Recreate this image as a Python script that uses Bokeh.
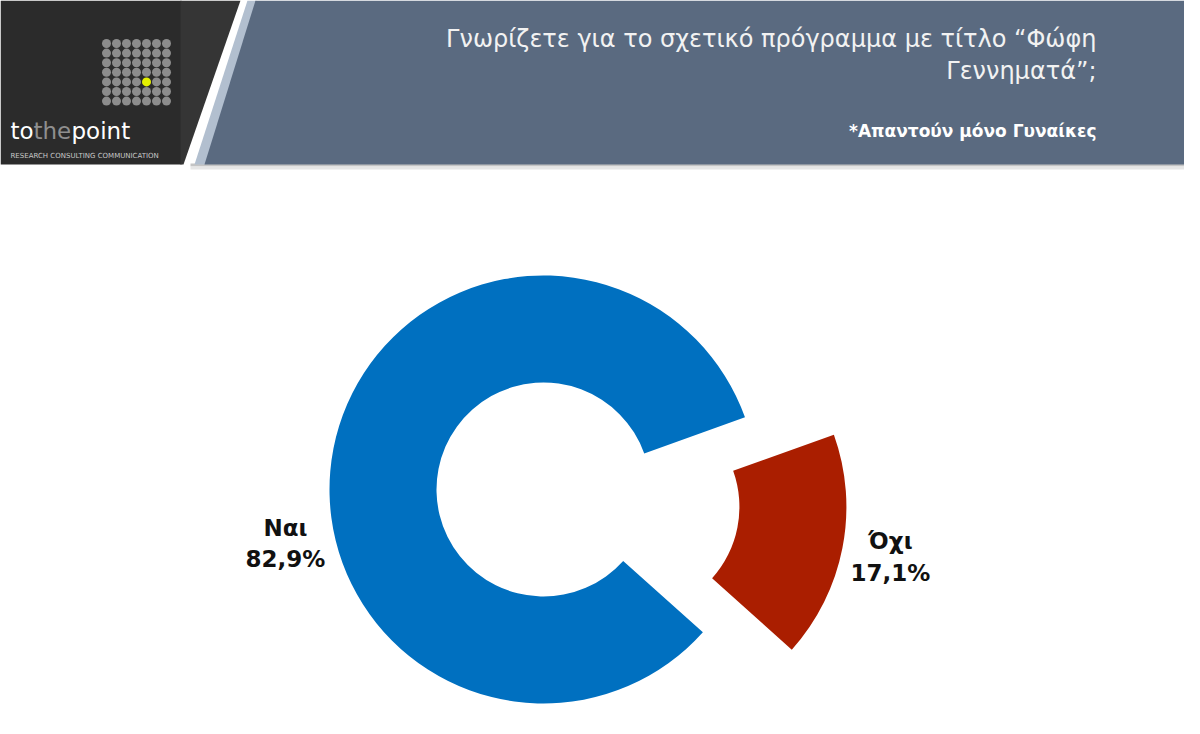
import numpy as np
from bokeh.plotting import figure
from bokeh.models import Range1d, ColumnDataSource
from bokeh.core.properties import value
from bokeh.embed import file_html
from bokeh.resources import INLINE

# ---------------- data ----------------
categories = ["Ναι", "Όχι"]
values = [82.9, 17.1]
value_labels = ["82,9%", "17,1%"]
colors = ["#0070C0", "#AA1E00"]

title_lines = ["Γνωρίζετε για το σχετικό πρόγραμμα με τίτλο “Φώφη", "Γεννηματά”;"]
subtitle = "*Απαντούν μόνο Γυναίκες"

# ---------------- layout ----------------
H = 734
def Y(y):
    return H - y

W_FIG, H_FIG = 1184, 718
CX, CY = 543, Y(489)
R_IN, R_OUT = 107, 214
START_DEG = 19.7
EXPLODE = [0, 90.6]
LABEL_POS = [(285, 527, 558), (890, 540, 572)]

p = figure(width=W_FIG, height=H_FIG, x_range=Range1d(0, W_FIG), y_range=Range1d(H - H_FIG, H),
           output_backend="svg", toolbar_location=None, min_border=0)
p.axis.visible = False
p.grid.visible = False
p.outline_line_color = None
p.background_fill_color = "white"
p.border_fill_color = "white"

# ---------------- header ----------------
p.quad(left=190, right=1200, top=Y(163), bottom=Y(166), color="#c4c4c4", line_color=None)
p.quad(left=190, right=1200, top=Y(166), bottom=Y(169), color="#e6e6e6", line_color=None)
p.quad(left=0, right=181, top=Y(0), bottom=Y(164), color="#2b2b2b", line_color=None)
p.patch([180, 240, 183, 180], [Y(0), Y(0), Y(164), Y(164)], color="#353535", line_color=None)
p.patch([247, 256, 205, 194], [Y(0), Y(0), Y(164), Y(164)], color="#b2bfcf", line_color=None)
p.patch([255, 1200, 1200, 204], [Y(0), Y(0), Y(164), Y(164)], color="#5a6a80", line_color=None)

# logo dots
gx, gy = np.meshgrid(np.arange(7), np.arange(7))
gx = gx.ravel(); gy = gy.ravel()
dot_cols = ["#e4f000" if (i == 4 and j == 4) else "#8c8c8c" for i, j in zip(gx, gy)]
p.scatter(x=106 + gx * 10, y=[Y(43 + j * 9.6) for j in gy], size=9, color=dot_cols, line_color=None)

logo_font = value("DejaVu Sans")
p.text(x=[10], y=[Y(130)], text=["to"], text_font=logo_font, text_font_size="23px",
       text_color="white", text_baseline="alphabetic")
p.text(x=[33], y=[Y(130)], text=["the"], text_font=logo_font, text_font_size="23px",
       text_color="#8f8f8f", text_baseline="alphabetic")
p.text(x=[71], y=[Y(130)], text=["point"], text_font=logo_font, text_font_size="23px",
       text_color="white", text_baseline="alphabetic")
p.text(x=[10], y=[Y(155)], text=["RESEARCH  CONSULTING  COMMUNICATION"], text_font=logo_font,
       text_font_size="7px", text_color="#c8c8c8", text_baseline="middle")

# title
p.text(x=[1096, 1096], y=[Y(38), Y(70)], text=title_lines, text_font=value("DejaVu Sans"),
       text_font_size="24px", text_color="#f2f2f2", text_align="right", text_baseline="middle")
p.text(x=[1096], y=[Y(130)], text=[subtitle], text_font=value("DejaVu Sans"),
       text_font_size="17px", text_font_style="bold", text_color="white",
       text_align="right", text_baseline="middle")

# ---------------- donut ----------------
vals = np.array(values, dtype=float)
frac = vals / vals.sum() * 2 * np.pi
starts = np.deg2rad(START_DEG) + np.concatenate([[0], np.cumsum(frac)[:-1]])
ends = starts + frac
mids = (starts + ends) / 2
ex = np.array(EXPLODE)
src = ColumnDataSource(dict(
    cx=CX + ex * np.cos(mids), cy=CY + ex * np.sin(mids),
    start=starts, end=ends, color=colors, cat=categories,
))
p.annular_wedge(x="cx", y="cy", inner_radius=R_IN, outer_radius=R_OUT,
                start_angle="start", end_angle="end", color="color", line_color=None, source=src)

lab = ColumnDataSource(dict(
    x=[lp[0] for lp in LABEL_POS] * 2,
    y=[Y(lp[1]) for lp in LABEL_POS] + [Y(lp[2]) for lp in LABEL_POS],
    t=categories + value_labels,
))
p.text(x="x", y="y", text="t", source=lab, text_font=value("DejaVu Sans"),
       text_font_size="23px", text_font_style="bold", text_color="#111111",
       text_align="center", text_baseline="middle")

open("out.html", "w").write(file_html(p, INLINE))
